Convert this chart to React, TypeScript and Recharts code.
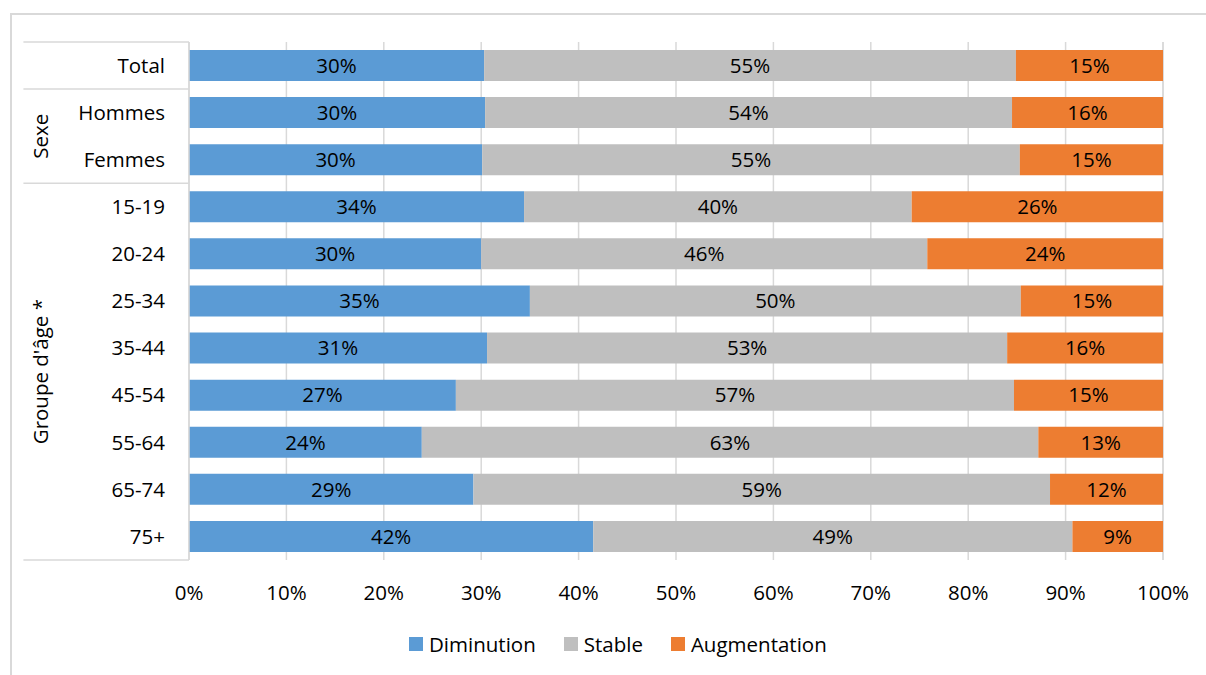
import React from 'react';
import {
  BarChart,
  Bar,
  XAxis,
  YAxis,
  CartesianGrid,
  LabelList,
  ReferenceLine,
  ReferenceArea,
} from 'recharts';

const categories = ['Total', 'Hommes', 'Femmes', '15-19', '20-24', '25-34', '35-44', '45-54', '55-64', '65-74', '75+'];
const diminution = [30.3, 30.4, 30.1, 34.4, 30.0, 35.0, 30.6, 27.4, 23.9, 29.2, 41.5];
const stable = [54.6, 54.1, 55.2, 39.8, 45.8, 50.4, 53.4, 57.3, 63.3, 59.2, 49.2];
const augmentation = [15.1, 15.5, 14.7, 25.8, 24.2, 14.6, 16.0, 15.3, 12.8, 11.6, 9.3];
const xTicks = [0, 10, 20, 30, 40, 50, 60, 70, 80, 90, 100];

const seriesNames = ['Diminution', 'Stable', 'Augmentation'];
const seriesKeys = ['dim', 'sta', 'aug'];
const seriesColors = ['#5B9BD5', '#BFBFBF', '#ED7D31'];

const groups = [
  { name: 'Sexe', from: 'Hommes', to: 'Femmes' },
  { name: "Groupe d'âge *", from: '15-19', to: '75+' },
];
const separators = [
  { cat: 'Total', pos: 'start' },
  { cat: 'Hommes', pos: 'start' },
  { cat: '15-19', pos: 'start' },
  { cat: '75+', pos: 'end' },
];

const data = categories.map((c, i) => ({
  cat: c,
  dim: diminution[i],
  sta: stable[i],
  aug: augmentation[i],
}));

const FONT = '"Open Sans", sans-serif';
const FS = 20.5;
const GRID = '#D9D9D9';
const AXIS_EXT = -17; // left edge of the category-axis table, in axis units
const GROUP_W = -13.5;

const fmt = (v: any) => `${Math.round(Number(v))}%`;

export default function App() {
  return (
    <div
      style={{
        position: 'absolute',
        left: 0,
        top: 0,
        width: 1206,
        height: 675,
        overflow: 'hidden',
        background: '#fff',
        fontFamily: FONT,
      }}
    >
      <div
        style={{
          position: 'absolute',
          left: 10,
          top: 13,
          width: 1400,
          height: 900,
          border: `2px solid ${GRID}`,
          boxSizing: 'border-box',
        }}
      />
      <div style={{ position: 'absolute', left: 0, top: 0 }}>
        <BarChart
          width={1206}
          height={675}
          data={data}
          layout="vertical"
          margin={{ top: 42, right: 43, left: 0, bottom: 75 }}
          barSize={31}
        >
          <CartesianGrid horizontal={false} vertical={true} stroke={GRID} strokeWidth={1.5} />
          <XAxis
            type="number"
            domain={[0, 100]}
            ticks={xTicks}
            tickFormatter={(v: number) => `${v}%`}
            axisLine={false}
            tickLine={false}
            tickSize={0}
            tickMargin={25}
            height={40}
            tick={{ fill: '#000', fontSize: FS, fontFamily: FONT }}
            interval={0}
          />
          <YAxis
            type="category"
            dataKey="cat"
            width={189}
            axisLine={{ stroke: GRID, strokeWidth: 1.5 }}
            tickLine={false}
            tickSize={0}
            tickMargin={24}
            tick={{ fill: '#000', fontSize: FS, fontFamily: FONT }}
            interval={0}
          />
          {seriesKeys.map((k, i) => (
            <Bar
              key={k}
              dataKey={k}
              name={seriesNames[i]}
              stackId="a"
              fill={seriesColors[i]}
              isAnimationActive={false}
            >
              <LabelList
                dataKey={k}
                position="center"
                formatter={fmt}
                fill="#000"
                style={{ fontSize: FS, fontFamily: FONT }}
              />
            </Bar>
          ))}
          {separators.map((s) => (
            <ReferenceLine
              key={s.cat + s.pos}
              segment={[
                { x: AXIS_EXT, y: s.cat },
                { x: 0, y: s.cat },
              ]}
              position={s.pos as any}
              ifOverflow="visible"
              stroke={GRID}
              strokeWidth={1.5}
            />
          ))}
          {groups.map((g) => (
            <ReferenceArea
              key={g.name}
              x1={AXIS_EXT}
              x2={GROUP_W}
              y1={g.from}
              y2={g.to}
              ifOverflow="visible"
              fill="none"
              fillOpacity={0}
              stroke="none"
              label={{
                value: g.name,
                angle: -90,
                position: 'center',
                fill: '#000',
                fontSize: FS,
                fontFamily: FONT,
              }}
            />
          ))}
        </BarChart>
      </div>
      <div
        style={{
          position: 'absolute',
          left: 409,
          top: 630,
          height: 28,
          display: 'flex',
          alignItems: 'center',
          fontSize: FS,
          color: '#000',
          fontFamily: FONT,
          whiteSpace: 'nowrap',
        }}
      >
        {seriesNames.map((n, i) => (
          <div
            key={n}
            style={{ display: 'flex', alignItems: 'center', marginRight: i < seriesNames.length - 1 ? 28 : 0 }}
          >
            <div style={{ width: 14, height: 14, background: seriesColors[i], marginRight: 6 }} />
            <span>{n}</span>
          </div>
        ))}
      </div>
    </div>
  );
}
